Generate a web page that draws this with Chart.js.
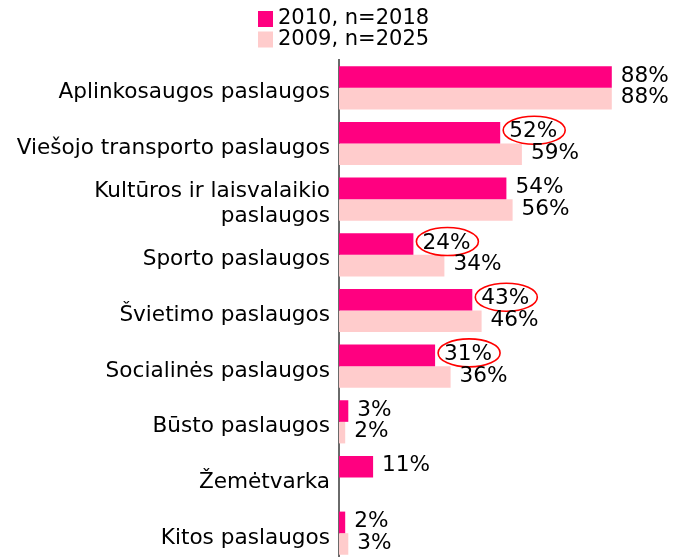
<!DOCTYPE html>
<html>
<head>
<meta charset="utf-8">
<script src="https://cdn.jsdelivr.net/npm/chart.js@4/dist/chart.umd.min.js"></script>
<style>
html,body{margin:0;padding:0;background:#fff;overflow:hidden;}
#wrap{position:relative;width:687px;height:562px;}
</style>
</head>
<body>
<div id="wrap"><canvas id="c"></canvas></div>
<script>
const categories = [
  'Aplinkosaugos paslaugos',
  'Viešojo transporto paslaugos',
  ['Kultūros ir laisvalaikio', 'paslaugos'],
  'Sporto paslaugos',
  'Švietimo paslaugos',
  'Socialinės paslaugos',
  'Būsto paslaugos',
  'Žemėtvarka',
  'Kitos paslaugos'
];
const seriesNames = ['2010, n=2018', '2009, n=2025'];
const values2010 = [88, 52, 54, 24, 43, 31, 3, 11, 2];
const values2009 = [88, 59, 56, 34, 46, 36, 2, null, 3];
const circled2010 = [false, true, false, true, true, true, false, false, false];

const FONT = '"DejaVu Sans", Verdana, sans-serif';
const FS = 21.6;

const valueLabels = {
  id: 'valueLabels',
  afterDatasetsDraw(chart) {
    const ctx = chart.ctx;
    ctx.save();
    ctx.font = FS + 'px ' + FONT;
    ctx.fillStyle = '#000';
    ctx.textBaseline = 'middle';
    ctx.textAlign = 'left';
    chart.data.datasets.forEach((ds, di) => {
      const meta = chart.getDatasetMeta(di);
      meta.data.forEach((bar, i) => {
        const v = ds.data[i];
        if (v === null || v === undefined) return;
        const txt = v + '%';
        const x = bar.x + 9;
        const y = bar.y - 1;
        ctx.fillText(txt, x, y);
        if (di === 0 && circled2010[i]) {
          const w = ctx.measureText(txt).width;
          ctx.save();
          ctx.strokeStyle = '#ff0000';
          ctx.lineWidth = 1.6;
          ctx.beginPath();
          ctx.ellipse(x + w / 2 + 1, bar.y - 2.5, w / 2 + 7, 14, 0, 0, Math.PI * 2);
          ctx.stroke();
          ctx.restore();
        }
      });
    });
    ctx.restore();
  }
};

const stackedLegend = {
  id: 'stackedLegend',
  afterDraw(chart) {
    const ctx = chart.ctx;
    ctx.save();
    ctx.font = '21px ' + FONT;
    ctx.textBaseline = 'middle';
    ctx.textAlign = 'left';
    const ds = chart.data.datasets;
    let maxW = 0;
    ds.forEach(d => { maxW = Math.max(maxW, ctx.measureText(d.label).width); });
    const box = 15, gap = 5;
    const total = box + gap + maxW;
    const x0 = Math.round((chart.width - total) / 2);
    ds.forEach((d, i) => {
      const yc = 19 + i * 20.5;
      ctx.fillStyle = d.backgroundColor;
      ctx.fillRect(x0, yc - 8, box, 16);
      ctx.fillStyle = '#000';
      ctx.fillText(d.label, x0 + box + gap, yc);
    });
    ctx.restore();
  }
};

new Chart(document.getElementById('c'), {
  type: 'bar',
  data: {
    labels: categories,
    datasets: [
      { label: seriesNames[0], data: values2010, backgroundColor: '#ff0080', borderWidth: 0 },
      { label: seriesNames[1], data: values2009, backgroundColor: '#ffcccc', borderWidth: 0 }
    ]
  },
  options: {
    indexAxis: 'y',
    responsive: true,
    maintainAspectRatio: false,
    animation: false,
    layout: { padding: { top: 60, right: 38, bottom: 1, left: 0 } },
    datasets: { bar: { barPercentage: 1, categoryPercentage: 0.775 } },
    plugins: { legend: { display: false }, tooltip: { enabled: false } },
    scales: {
      x: { display: false, min: 0, max: 100 },
      y: {
        afterFit(scale) { scale.width = 339; scale.paddingTop = 0; scale.paddingBottom = 0; },
        grid: { display: false, drawTicks: false },
        border: { display: true, color: '#6a6a6a', width: 2 },
        ticks: {
          color: '#000',
          padding: 9,
          labelOffset: 5,
          font: { family: FONT, size: FS, lineHeight: 1.15 }
        }
      }
    }
  },
  plugins: [valueLabels, stackedLegend]
});
</script>
</body>
</html>
